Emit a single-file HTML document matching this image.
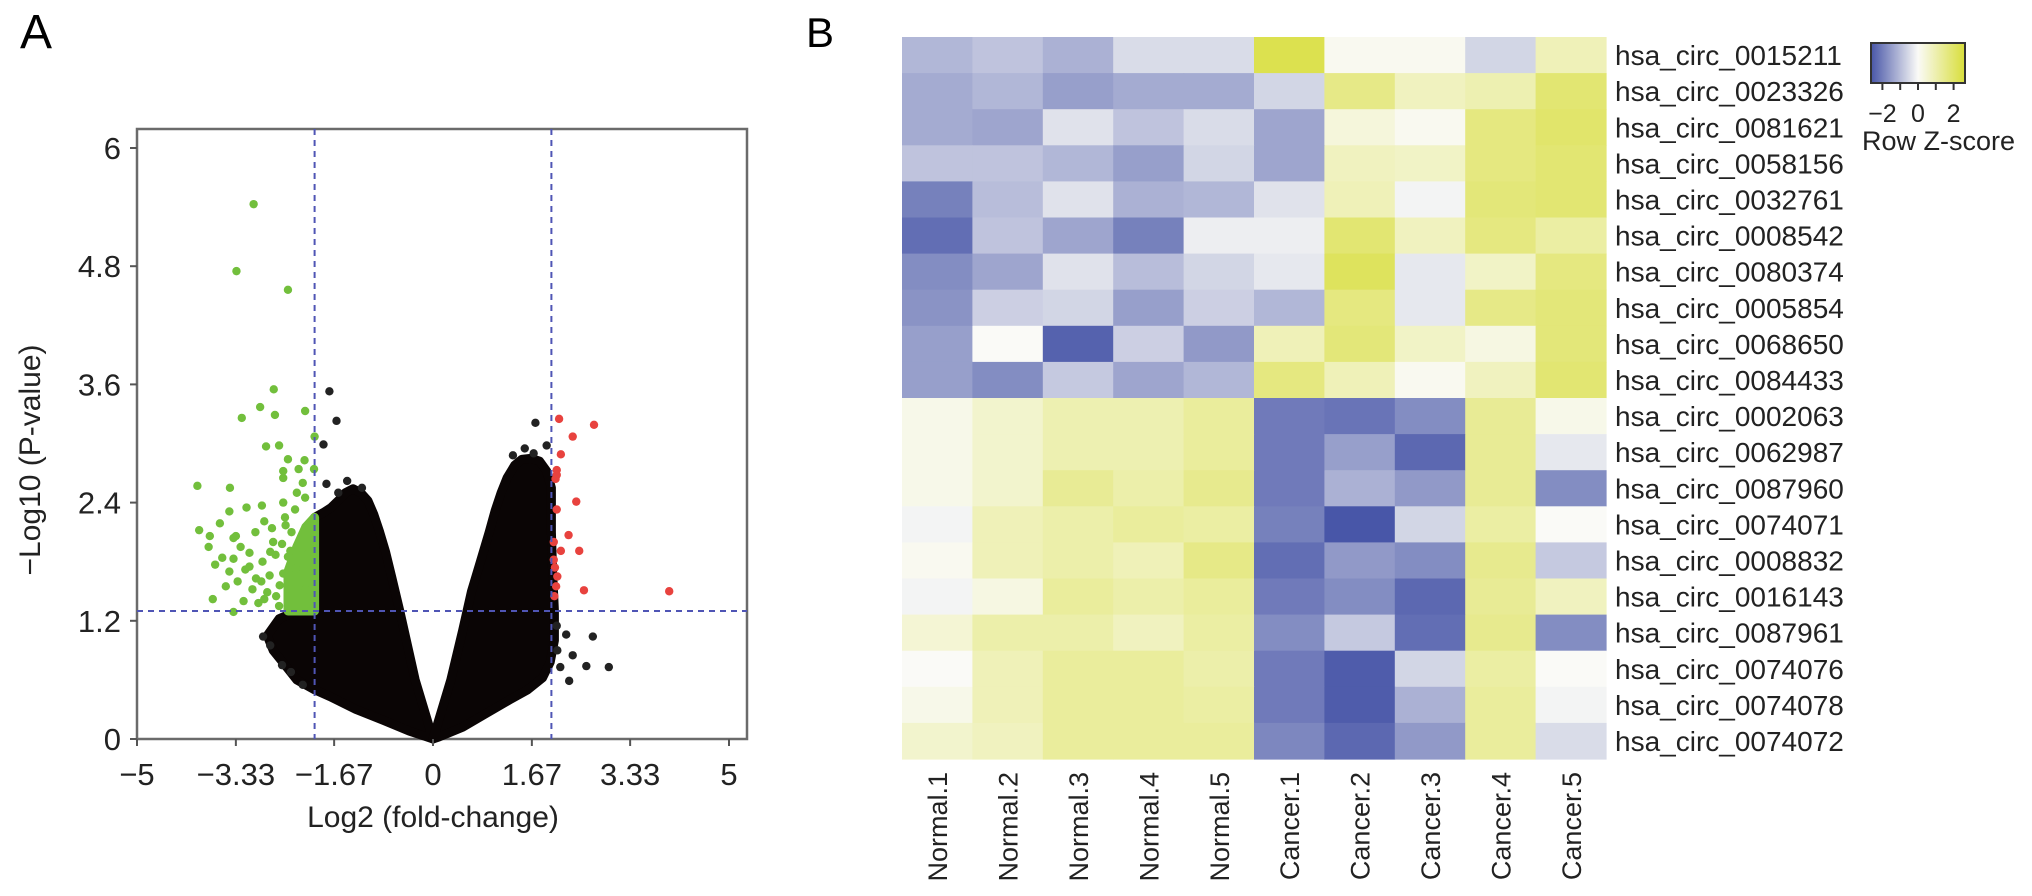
<!DOCTYPE html>
<html><head><meta charset="utf-8"><style>
html,body{margin:0;padding:0;background:#fff;}
svg{display:block;font-family:"Liberation Sans",Arial,sans-serif;}
</style></head><body>
<svg id="fig" width="2032" height="896" viewBox="0 0 2032 896" xmlns="http://www.w3.org/2000/svg">
<text x="20" y="48" font-size="48">A</text>
<text x="806" y="47" font-size="42">B</text>
<g id="volcano"></g>
<g id="heat"></g>
</svg>
<script>
// ---------- Volcano data ----------
const xTicks = [-5, -3.33, -1.67, 0, 1.67, 3.33, 5];
const xTickLabels = ["\u22125", "\u22123.33", "\u22121.67", "0", "1.67", "3.33", "5"];
const yTicks = [0, 1.2, 2.4, 3.6, 4.8, 6];
const yTickLabels = ["0", "1.2", "2.4", "3.6", "4.8", "6"];
const fcCut = [-2, 2];
const pCut = 1.3;
const leftCloudX = [0,-0.3,-0.56,-0.7,-0.8,-0.9,-1.0,-1.1,-1.22,-1.35,-1.48,-1.6,-1.72,-1.85,-2.0,-2.0,-2.3,-2.6,-2.8,-2.7,-2.5,-2.3,-2.0,-1.74,-1.3,-0.84,-0.4,-0.1];
const leftCloudY = [0,0.6,1.3,1.65,1.9,2.1,2.28,2.42,2.5,2.54,2.5,2.42,2.35,2.3,2.25,1.3,1.3,1.22,1.05,0.9,0.75,0.6,0.5,0.43,0.3,0.19,0.08,0.02];
const rightCloudX = [0,0.1,0.5,0.9,1.3,1.6,1.85,1.98,2.05,2.05,2.02,2.0,2.0,1.92,1.8,1.65,1.5,1.38,1.25,1.15,1.05,0.95,0.8,0.65,0.5,0.3];
const rightCloudY = [0,0.02,0.12,0.26,0.4,0.5,0.62,0.78,1.0,1.3,1.7,2.1,2.55,2.72,2.82,2.85,2.84,2.78,2.65,2.5,2.32,2.1,1.8,1.5,1.1,0.6];
const greenPatchX = [-2.45,-2.45,-2.3,-2.15,-2.0,-2.0];
const greenPatchY = [1.3,1.7,1.95,2.15,2.25,1.3];
const blackX = [-1.75,-1.63,-1.85,-1.80,1.73,1.92,2.70,2.97,2.59,2.30,2.25,2.36,2.15,2.09,-2.87,-2.75,-2.55,-1.45,-1.2,-1.6,1.55,1.7,1.35,-2.4,-2.2,2.1];
const blackY = [3.53,3.23,2.99,2.59,3.21,2.98,1.04,0.73,0.74,0.59,1.06,0.85,0.73,1.15,1.04,0.95,0.75,2.62,2.55,2.5,2.95,2.9,2.88,0.68,0.55,0.9];
const greenX = [-3.03,-3.32,-2.45,-2.69,-2.92,-3.23,-2.67,-2.16,-2.82,-2.60,-2.0,-2.45,-2.17,-2.27,-2.53,-2.01,-3.98,-3.43,-2.53,-2.16,-2.89,-3.15,-3.44,-2.53,-2.33,-3.95,-3.60,-3.77,-3.79,-3.37,-3.33,-2.85,-2.72,-2.49,-2.39,-3.56,-3.37,-3.10,-2.88,-2.66,-2.41,-2.21,-3.68,-3.44,-3.17,-2.99,-2.76,-2.53,-2.32,-3.05,-2.80,-2.59,-2.40,-3.72,-3.37,-2.85,-2.15,-3.2,-2.95,-2.6,-3.5,-3.25,-2.7,-2.45,-3.0,-2.3,-2.2,-2.5,-2.9,-2.65,-3.1,-2.55,-2.75,-3.3];
const greenY = [5.43,4.75,4.56,3.55,3.37,3.26,3.29,3.33,2.97,2.98,3.07,2.84,2.83,2.74,2.72,2.74,2.57,2.55,2.65,2.45,2.37,2.35,2.31,2.40,2.33,2.12,2.19,2.06,1.95,2.04,2.06,2.21,2.14,2.17,2.10,1.84,1.83,1.89,1.80,1.87,1.91,1.94,1.77,1.70,1.72,1.63,1.66,1.68,1.73,1.52,1.49,1.56,1.52,1.42,1.29,1.42,1.52,1.40,1.38,1.35,1.55,1.95,2.0,1.85,2.1,2.5,2.6,2.25,1.6,1.45,1.75,1.98,1.9,1.6];
const redX = [2.13,2.72,2.36,2.16,2.09,2.09,2.07,2.42,2.09,2.29,2.16,2.47,2.04,2.06,2.08,2.55,3.99,2.1,2.05,2.04];
const redY = [3.25,3.19,3.07,2.89,2.73,2.68,2.64,2.41,2.33,2.07,1.91,1.91,1.82,1.74,1.55,1.51,1.50,1.65,1.45,2.0];

// ---------- Heatmap data ----------
const sampleNames = ["Normal.1","Normal.2","Normal.3","Normal.4","Normal.5","Cancer.1","Cancer.2","Cancer.3","Cancer.4","Cancer.5"];
const geneNames = ["hsa_circ_0015211","hsa_circ_0023326","hsa_circ_0081621","hsa_circ_0058156","hsa_circ_0032761","hsa_circ_0008542","hsa_circ_0080374","hsa_circ_0005854","hsa_circ_0068650","hsa_circ_0084433","hsa_circ_0002063","hsa_circ_0062987","hsa_circ_0087960","hsa_circ_0074071","hsa_circ_0008832","hsa_circ_0016143","hsa_circ_0087961","hsa_circ_0074076","hsa_circ_0074078","hsa_circ_0074072"];
const z01 = [-1.1,-0.9,-1.2,-0.5,-0.5,2.4,0.1,0.1,-0.6,0.9];
const z02 = [-1.3,-1.1,-1.5,-1.3,-1.3,-0.6,1.6,0.8,1.0,1.9];
const z03 = [-1.3,-1.4,-0.4,-0.9,-0.5,-1.4,0.4,0.1,1.7,2.0];
const z04 = [-0.9,-0.9,-1.1,-1.5,-0.6,-1.4,0.8,0.7,1.7,1.9];
const z05 = [-2.0,-1.0,-0.4,-1.2,-1.1,-0.4,0.9,-0.1,1.8,1.9];
const z06 = [-2.3,-0.9,-1.4,-2.0,-0.2,-0.2,1.9,0.8,1.7,1.2];
const z07 = [-1.8,-1.4,-0.4,-1.0,-0.6,-0.3,2.2,-0.3,0.7,1.7];
const z08 = [-1.7,-0.7,-0.6,-1.5,-0.7,-1.1,1.7,-0.3,1.6,1.8];
const z09 = [-1.5,0.0,-2.5,-0.7,-1.6,0.9,1.8,0.7,0.3,1.8];
const z10 = [-1.5,-1.8,-0.8,-1.4,-1.1,1.7,0.9,0.1,0.8,1.9];
const z11 = [0.2,0.6,1.0,1.0,1.3,-2.1,-2.2,-1.8,1.4,0.2];
const z12 = [0.2,0.6,1.0,1.0,1.3,-2.1,-1.5,-2.4,1.4,-0.3];
const z13 = [0.2,0.6,1.4,1.1,1.5,-2.1,-1.2,-1.6,1.4,-1.8];
const z14 = [-0.1,0.9,1.1,1.3,1.2,-2.0,-2.8,-0.6,1.2,0.0];
const z15 = [0.1,0.9,1.1,0.9,1.6,-2.3,-1.6,-1.8,1.5,-0.8];
const z16 = [-0.1,0.3,1.3,1.1,1.3,-2.1,-1.8,-2.4,1.4,0.8];
const z17 = [0.5,1.1,1.1,0.8,1.2,-1.8,-0.8,-2.3,1.5,-1.8];
const z18 = [0.0,0.9,1.3,1.3,1.1,-2.1,-2.6,-0.6,1.2,0.0];
const z19 = [0.2,0.9,1.3,1.3,1.2,-2.1,-2.6,-1.2,1.3,-0.1];
const z20 = [0.6,0.8,1.3,1.3,1.3,-1.9,-2.4,-1.6,1.3,-0.5];
const zRows = [z01,z02,z03,z04,z05,z06,z07,z08,z09,z10,z11,z12,z13,z14,z15,z16,z17,z18,z19,z20];
const keyTicks = [-2,-1,0,1,2];
const keyTickLabels = ["\u22122","0","2"];
const keyLabelValues = [-2,0,2];

const NS = "http://www.w3.org/2000/svg";
function mk(tag, attrs, parent){const e=document.createElementNS(NS,tag);for(const k in attrs)e.setAttribute(k,attrs[k]);parent.appendChild(e);return e;}

// ---------- Volcano ----------
const V = document.getElementById('volcano');
const fL=137, fR=747, fT=129, fB=739;
const X = v => 433 + v*59.2;
const Y = v => 739 - v*98.5;
let fr = mk('rect',{x:fL,y:fT,width:fR-fL,height:fB-fT,fill:'#fff',stroke:'#6b6b6b','stroke-width':2.5},V);


function cloud(xs, ys, color, name){
  const pts = xs.map((x,i)=>X(x).toFixed(1)+','+Y(ys[i]).toFixed(1)).join(' ');
  const p = mk('polygon',{points:pts,fill:color,stroke:color,'stroke-width':9,'stroke-linejoin':'round'},V);
  
  
}
cloud(leftCloudX,leftCloudY,'#0a0505','black-cloud-left');
cloud(rightCloudX,rightCloudY,'#0a0505','black-cloud-right');
cloud(greenPatchX,greenPatchY,'#72bf3c','green-dense-cluster');
function dots(xs, ys, color, name){
  xs.forEach((x,i)=>{
    const c = mk('circle',{cx:X(x),cy:Y(ys[i]),r:4.2,fill:color},V);
    
    
  });
}
dots(blackX,blackY,'#222','nonsig-point');
dots(greenX,greenY,'#72bf3c','down-point');
dots(redX,redY,'#e8423e','up-point');
fcCut.forEach(v=>{
  const l = mk('line',{x1:X(v),x2:X(v),y1:fT,y2:fB,stroke:'#4f55b5','stroke-width':2,'stroke-dasharray':'6,5'},V);
  
  
});
const hl = mk('line',{x1:fL,x2:fR,y1:Y(pCut),y2:Y(pCut),stroke:'#4f55b5','stroke-width':2,'stroke-dasharray':'6,5'},V);


xTicks.forEach((v,i)=>{
  const t = mk('line',{x1:X(v),x2:X(v),y1:fB,y2:fB+7,stroke:'#555','stroke-width':2},V);
  
  
  const tx = mk('text',{x:X(v),y:785,'font-size':31,'text-anchor':'middle',fill:'#222'},V);
  tx.textContent = xTickLabels[i];
  
  
});
yTicks.forEach((v,i)=>{
  const t = mk('line',{x1:fL-7,x2:fL,y1:Y(v),y2:Y(v),stroke:'#555','stroke-width':2},V);
  
  
  const tx = mk('text',{x:121,y:Y(v)+11,'font-size':31,'text-anchor':'end',fill:'#222'},V);
  tx.textContent = yTickLabels[i];
  
  
});
const xt = mk('text',{x:433,y:827,'font-size':30,'text-anchor':'middle',fill:'#222'},V);
xt.textContent='Log2 (fold-change)';


const yt = mk('text',{x:0,y:0,'font-size':30,'text-anchor':'middle',fill:'#222',transform:'translate(40,460) rotate(-90)'},V);
yt.textContent='\u2212Log10 (P-value)';



// ---------- Heatmap ----------
const H = document.getElementById('heat');
const hL=902, hT=37, cw=70.4, rh=36.1;
const blue=[72,86,168], white=[250,250,247], yel=[216,222,58];
function zcol(z){
  const t=Math.max(-1,Math.min(1,z/2.7));
  const a = t<0?blue:yel, f=Math.abs(t);
  return 'rgb('+white.map((w,i)=>Math.round(w+(a[i]-w)*f)).join(',')+')';
}
zRows.forEach((row,r)=>{
  row.forEach((z,c)=>{
    const cell = mk('rect',{x:hL+c*cw,y:hT+r*rh,width:cw+0.6,height:rh+0.6,fill:zcol(z)},H);
    
    
  });
  const lab = mk('text',{x:1615,y:hT+r*rh+rh/2+10,'font-size':28,fill:'#222'},H);
  lab.textContent = geneNames[r];
  
  
});
sampleNames.forEach((s,c)=>{
  const cx = hL+c*cw+cw/2+10;
  const t = mk('text',{x:0,y:0,'font-size':27,'text-anchor':'end',fill:'#222',transform:'translate('+cx+',772) rotate(-90)'},H);
  t.textContent = s;
  
  
});
const defs = mk('defs',{},H);
const lg = mk('linearGradient',{id:'kg',x1:'0',x2:'1',y1:'0',y2:'0'},defs);
mk('stop',{offset:'0','stop-color':zcol(-2.7)},lg);
mk('stop',{offset:'0.5','stop-color':zcol(0)},lg);
mk('stop',{offset:'1','stop-color':zcol(2.7)},lg);
const kx0=1871,kx1=1965, KX = v => 1918 + v*17.8;
const kb = mk('rect',{x:kx0,y:43,width:kx1-kx0,height:40,fill:'url(#kg)',stroke:'#333','stroke-width':2},H);


keyTicks.forEach(v=>{
  const t = mk('line',{x1:KX(v),x2:KX(v),y1:83,y2:90,stroke:'#333','stroke-width':2},H);
  
  
});
keyLabelValues.forEach((v,i)=>{
  const t = mk('text',{x:KX(v),y:122,'font-size':25,'text-anchor':'middle',fill:'#222'},H);
  t.textContent = keyTickLabels[i];
  
  
});
const kt = mk('text',{x:1862,y:150,'font-size':27,fill:'#222'},H);
kt.textContent='Row Z-score';


</script>
</body></html>
